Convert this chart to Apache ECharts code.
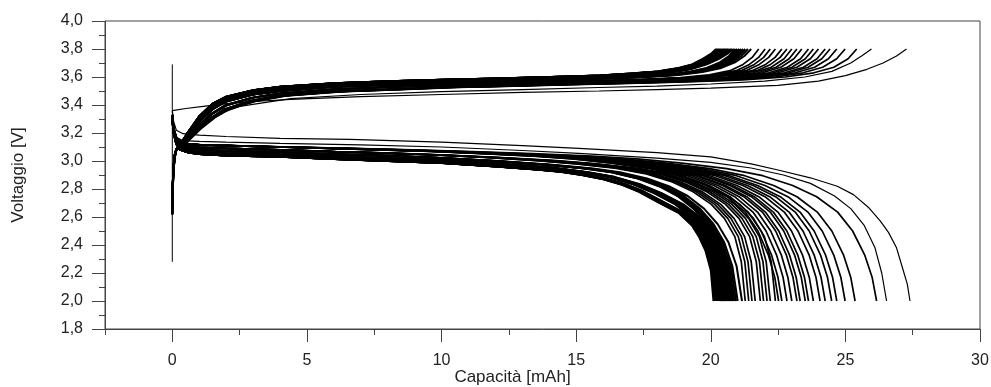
<!DOCTYPE html>
<html>
<head>
<meta charset="utf-8">
<script src="https://cdn.jsdelivr.net/npm/echarts@6/dist/echarts.min.js"></script>
<style>
  html, body { margin: 0; padding: 0; background: #fff; }
  #chart { width: 991px; height: 387px; }
</style>
</head>
<body>
<div id="chart"></div>
<script>
// tick labels
var xMajorTicks = [0, 5, 10, 15, 20, 25, 30];
var xMinorTicks = [-2.5, 2.5, 7.5, 12.5, 17.5, 22.5, 27.5];

// end capacity (mAh) of each cycle, read where the curves hit 3,8 V / 2,0 V
var chargeEnd = [20.20, 20.24, 20.28, 20.32, 20.36, 20.40, 20.44, 20.48, 20.52, 20.56,
    20.60, 20.65, 20.70, 20.75, 20.80, 20.86, 20.92, 20.98, 21.05, 21.12, 21.20, 21.28,
    21.38, 21.50, 21.78, 22.02, 22.21, 22.40, 22.64, 22.83, 23.01, 23.20, 23.38, 23.63,
    23.81, 24.00, 24.25, 24.43, 24.68, 24.99, 25.42];
var dischargeEnd = [20.10, 20.13, 20.16, 20.19, 20.22, 20.25, 20.28, 20.31, 20.34, 20.37,
    20.40, 20.43, 20.46, 20.49, 20.52, 20.55, 20.58, 20.62, 20.66, 20.70, 20.74, 20.78,
    20.83, 20.88, 20.94, 21.00, 21.16, 21.28, 21.41, 21.53, 21.65, 21.84, 21.96, 22.09,
    22.21, 22.40, 22.52, 22.64, 22.83, 23.01, 23.20, 23.32, 23.51, 23.63, 23.81, 24.06,
    24.25, 24.49, 24.68, 24.99, 25.36, 26.16];

// curve shapes [mAh, V], from the top of the charge band down
var chargeA = [[0,2.62],[0.03,2.88],[0.08,3.02],[0.15,3.08],[0.3,3.12],[0.6,3.21],[1,3.32],
    [1.5,3.41],[2,3.46],[3,3.505],[4,3.53],[6,3.555],[8,3.57],[10,3.58],[12,3.59],[14,3.60],
    [15.85,3.61],[17,3.625],[18,3.64],[18.8,3.665],[19.3,3.69],[19.7,3.73],[20.0,3.765],[20.2,3.8]];
var chargeB = [[0,2.65],[0.03,2.89],[0.08,3.025],[0.15,3.082],[0.3,3.115],[0.6,3.195],[1,3.30],
    [1.5,3.39],[2,3.443],[3,3.49],[4,3.515],[6,3.542],[8,3.557],[10,3.567],[12,3.577],[14,3.587],
    [16,3.60],[17.3,3.612],[18.4,3.63],[19.2,3.655],[19.8,3.69],[20.25,3.73],[20.55,3.765],[20.8,3.8]];
var chargeC = [[0,2.68],[0.03,2.9],[0.08,3.03],[0.15,3.085],[0.3,3.11],[0.6,3.18],[1,3.28],
    [1.5,3.37],[2,3.425],[3,3.475],[4,3.5],[6,3.53],[8,3.545],[10,3.555],[12,3.565],[14,3.575],
    [16,3.59],[17.5,3.60],[18.7,3.615],[19.6,3.635],[20.3,3.665],[20.8,3.705],[21.15,3.75],[21.4,3.8]];
var chargeD = [[0,2.72],[0.03,2.92],[0.08,3.035],[0.15,3.083],[0.3,3.105],[0.6,3.165],[1,3.255],
    [1.5,3.34],[2,3.397],[3,3.452],[4,3.482],[6,3.512],[8,3.527],[10,3.54],[12,3.55],[14,3.56],
    [16,3.572],[18,3.583],[19.5,3.595],[20.6,3.615],[21.4,3.645],[21.9,3.69],[22.25,3.74],[22.5,3.8]];
var chargeE = [[0,2.75],[0.03,2.93],[0.08,3.04],[0.15,3.08],[0.3,3.10],[0.6,3.15],[1,3.23],
    [1.5,3.31],[2,3.37],[3,3.43],[4,3.465],[6,3.495],[8,3.51],[10,3.525],[12,3.535],[14,3.545],
    [16,3.555],[18,3.565],[20,3.58],[21.5,3.60],[22.5,3.63],[23.2,3.67],[23.7,3.73],[24,3.8]];
var chargeFirst = [[0,3.36],[0.5,3.375],[1.15,3.39],[2,3.41],[3,3.425],[4.4,3.44],[7,3.46],
    [10,3.475],[13,3.49],[15.85,3.50],[18,3.51],[20,3.52],[22.5,3.54],[24,3.57],[25,3.61],
    [25.8,3.655],[26.4,3.70],[26.9,3.75],[27.27,3.8]];
var chargeSecond = [[0,2.8],[0.05,3.0],[0.15,3.09],[0.5,3.18],[1,3.25],[1.5,3.32],[2.5,3.39],
    [4.4,3.445],[7,3.475],[10,3.495],[13,3.51],[15.85,3.525],[18,3.535],[20,3.55],[22,3.57],
    [23.5,3.60],[24.5,3.64],[25.2,3.70],[25.6,3.75],[25.97,3.8]];

// discharge shapes, from the bottom of the band up
var dischargeA = [[0,3.30],[0.05,3.20],[0.15,3.12],[0.3,3.08],[0.6,3.06],[1,3.05],[2,3.04],
    [4,3.03],[6,3.015],[8,3.0],[10,2.985],[12,2.96],[13.5,2.94],[14.4,2.924],[15.2,2.90],[16,2.87],
    [16.7,2.83],[17.33,2.78],[18.1,2.70],[18.8,2.63],[19.3,2.54],[19.56,2.46],[19.8,2.36],
    [20.0,2.22],[20.1,2.0]];
var dischargeB = [[0,3.305],[0.05,3.205],[0.15,3.125],[0.3,3.09],[0.6,3.072],[1,3.062],[2,3.054],
    [4,3.045],[6,3.031],[8,3.018],[10,3.003],[12,2.98],[14,2.952],[15.3,2.92],[16.3,2.885],
    [17.2,2.835],[18.0,2.77],[18.8,2.69],[19.4,2.60],[19.8,2.50],[20.1,2.38],[20.35,2.22],[20.5,2.0]];
var dischargeC = [[0,3.31],[0.05,3.21],[0.15,3.135],[0.3,3.105],[0.6,3.09],[1,3.082],[2,3.072],
    [4,3.062],[6,3.048],[8,3.037],[10,3.022],[12,3.0],[14,2.973],[15.5,2.947],[16.5,2.92],
    [17.5,2.875],[18.3,2.82],[19,2.75],[19.6,2.66],[20.1,2.55],[20.5,2.42],[20.8,2.25],[21.0,2.0]];
var dischargeD = [[0,3.32],[0.05,3.22],[0.15,3.15],[0.3,3.12],[0.6,3.105],[1,3.097],[2,3.09],
    [4,3.08],[6,3.067],[8,3.056],[10,3.043],[12,3.025],[14,3.003],[15.5,2.98],[17,2.948],
    [18.2,2.907],[19.2,2.85],[20,2.78],[20.7,2.69],[21.2,2.59],[21.6,2.46],[21.85,2.28],[22.0,2.0]];
var dischargeE = [[0,3.33],[0.05,3.23],[0.15,3.165],[0.3,3.135],[0.6,3.12],[1,3.115],[2,3.11],
    [4,3.10],[6,3.09],[8,3.08],[10,3.068],[12,3.053],[14,3.035],[15.5,3.015],[17,2.985],
    [18.5,2.945],[19.7,2.895],[20.7,2.825],[21.5,2.745],[22.2,2.635],[22.7,2.50],[23.1,2.33],
    [23.35,2.17],[23.5,2.0]];
var dischargeFirst = [[0,3.36],[0.05,3.28],[0.15,3.22],[0.4,3.195],[1,3.185],[2,3.175],[4,3.162],
    [6.6,3.155],[10,3.135],[13,3.11],[15.1,3.09],[18,3.06],[20,3.03],[21.5,2.98],[22.5,2.936],
    [23.7,2.88],[24.7,2.82],[25.3,2.76],[25.85,2.67],[26.3,2.57],[26.6,2.49],[26.9,2.38],
    [27.1,2.25],[27.3,2.12],[27.4,2.0]];
var dischargeSecond = [[0,3.33],[0.05,3.24],[0.15,3.17],[0.4,3.145],[1,3.14],[2,3.135],[4,3.126],
    [7,3.115],[10,3.1],[13,3.075],[15.1,3.055],[18,3.02],[20,2.99],[21.5,2.95],[22.7,2.9],
    [23.7,2.84],[24.6,2.75],[25.2,2.66],[25.7,2.54],[26.1,2.38],[26.35,2.2],[26.53,2.0]];

var startLine = [[0,2.28],[0,3.69]];

// stretch a shape so it ends at the cycle's capacity
function stretch(shape, end) {
    var k = end / shape[shape.length - 1][0];
    return shape.map(function (p) { return [p[0] * k, p[1]]; });
}

function curve(data, width) {
    return {
        type: 'line',
        data: data,
        showSymbol: false,
        silent: true,
        lineStyle: { color: '#000', width: width }
    };
}

function pickCharge(q) {
    if (q <= 20.45) return chargeA;
    if (q <= 20.9) return chargeB;
    if (q <= 21.6) return chargeC;
    if (q <= 22.9) return chargeD;
    return chargeE;
}
function pickDischarge(q) {
    if (q <= 20.35) return dischargeA;
    if (q <= 20.7) return dischargeB;
    if (q <= 21.2) return dischargeC;
    if (q <= 22.5) return dischargeD;
    return dischargeE;
}

// heavier stroke on the cycle bundle so the band reads solid, as in the original
var series = [];
chargeEnd.forEach(function (q) {
    series.push(curve(stretch(pickCharge(q), q), q <= 21.6 ? 2 : 1.7));
});
dischargeEnd.forEach(function (q) {
    series.push(curve(stretch(pickDischarge(q), q), q <= 21.2 ? 2 : 1.7));
});
series.push(curve(chargeFirst, 1.2));
series.push(curve(chargeSecond, 1.2));
series.push(curve(dischargeFirst, 1.2));
series.push(curve(dischargeSecond, 1.2));
series.push(curve(startLine, 1));

var tickFont = { color: '#222', fontFamily: 'Liberation Sans', fontSize: 16 };
var nameFont = { color: '#222', fontFamily: 'Liberation Sans', fontSize: 17 };
var axisColor = '#444';

var chart = echarts.init(document.getElementById('chart'));
chart.setOption({
    animation: false,
    grid: {
        left: 105, right: 11, top: 21, bottom: 58,
        outerBoundsMode: 'none',
        show: true, borderColor: axisColor, borderWidth: 1, backgroundColor: 'transparent'
    },
    xAxis: [{
        type: 'value',
        min: -2.5, max: 30,
        name: 'Capacità [mAh]',
        nameLocation: 'middle',
        nameGap: 40,
        nameMoveOverlap: false,
        nameTextStyle: Object.assign({ padding: [0, 60, 0, 0] }, nameFont),
        axisLine: { show: true, onZero: false, lineStyle: { color: axisColor } },
        axisTick: { show: true, length: 13, customValues: xMajorTicks, lineStyle: { color: axisColor } },
        axisLabel: Object.assign({ margin: 24, customValues: xMajorTicks }, tickFont),
        splitLine: { show: false }
    }, {
        type: 'value',
        min: -2.5, max: 30,
        position: 'bottom',
        axisLine: { show: false, onZero: false },
        axisTick: { show: true, length: 6, customValues: xMinorTicks, lineStyle: { color: axisColor } },
        axisLabel: { show: false },
        splitLine: { show: false }
    }],
    yAxis: {
        type: 'value',
        min: 1.8, max: 4.0, interval: 0.2,
        name: 'Voltaggio [V]',
        nameLocation: 'middle',
        nameGap: 78,
        nameMoveOverlap: false,
        nameTextStyle: nameFont,
        axisLine: { show: true, onZero: false, lineStyle: { color: axisColor } },
        axisTick: { show: true, length: 13, lineStyle: { color: axisColor } },
        minorTick: { show: true, splitNumber: 2, length: 6, lineStyle: { color: axisColor } },
        axisLabel: Object.assign({
            margin: 22,
            formatter: function (v) { return v.toFixed(1).replace('.', ','); }
        }, tickFont),
        splitLine: { show: false }
    },
    series: series
});
</script>
</body>
</html>
